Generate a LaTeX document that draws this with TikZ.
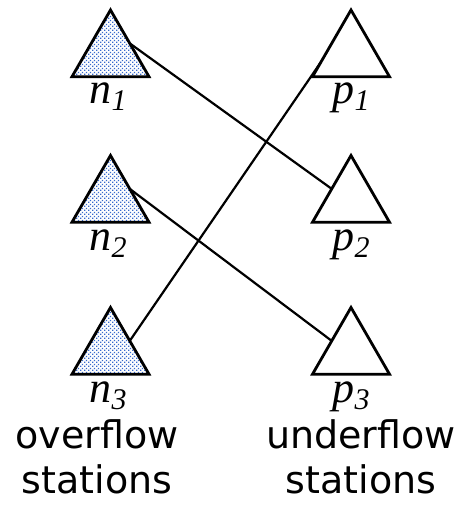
\documentclass[tikz,border=0pt]{standalone}
\usepackage{fontspec}
\usepackage{tikz}
\usetikzlibrary{shapes.geometric, patterns.meta, positioning, calc}
\setmainfont{DejaVu Sans}
\newfontfamily\idxfont{Liberation Serif}
\definecolor{dotblue}{RGB}{55, 105, 205}
\newcommand{\stn}[2]{{\idxfont\itshape\fontsize{44}{44}\selectfont #1\raisebox{-7pt}{\fontsize{30}{30}\selectfont #2}}}
\tikzdeclarepattern{
  name=bluedots,
  type=uncolored,
  bounding box={(0pt,0pt) and (4pt,4pt)},
  tile size={(4pt,4pt)},
  code={
    \fill (0.2pt,0.2pt) rectangle (1.8pt,1.8pt);
    \fill (2.2pt,2.2pt) rectangle (3.8pt,3.8pt);
  }
}

\begin{document}
\begin{tikzpicture}[
    x=1pt, y=-1pt,
    station/.style={regular polygon, regular polygon sides=3, draw=black, line width=2.8pt, minimum size=89pt, inner sep=0pt, outer sep=0pt},
    over/.style={station, preaction={fill=white}, pattern=bluedots, pattern color=dotblue},
    under/.style={station, fill=white},
    idx/.style={anchor=base, inner sep=0pt},
    caption/.style={align=center, font=\fontsize{38}{45}\selectfont, inner sep=0pt},
    link/.style={line width=2.2pt, black}
]
    \useasboundingbox (0,0) rectangle (467,519);

    % Overflow stations
    \node[over] (n1) at (110.5, 54.5) {};
    \node[over] (n2) at (110.5, 200) {};
    \node[over] (n3) at (110.5, 352) {};

    % Underflow stations
    \node[under] (p1) at (351, 54.5) {};
    \node[under] (p2) at (351, 200) {};
    \node[under] (p3) at (351, 352) {};

    % Labels
    \node[idx] (n1l) at (108, 103) {\stn{n}{1}};
    \node[idx] (n2l) at (108, 250) {\stn{n}{2}};
    \node[idx] (n3l) at (108, 402) {\stn{n}{3}};
    \node[idx] (p1l) at (351, 103) {\stn{p}{1}};
    \node[idx] (p2l) at (351, 250) {\stn{p}{2}};
    \node[idx] (p3l) at (351, 402) {\stn{p}{3}};

    \node[caption] (overcap) at (97, 457) {overflow\\stations};
    \node[caption] (undercap) at (361, 457) {underflow\\stations};

    % Connections
    \draw[link] (n1.side 3) -- (p2.side 1);
    \draw[link] (n2.side 3) -- (p3.side 1);
    \draw[link] (n3.side 3) -- ($(p1.corner 2)!0.22!(p1.corner 1)$);

\end{tikzpicture}
\end{document}
